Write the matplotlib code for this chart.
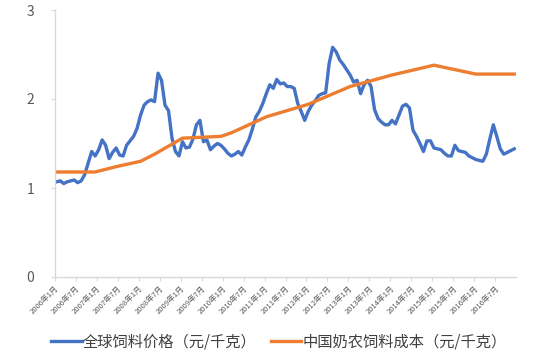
import matplotlib
matplotlib.use("Agg")
import matplotlib.pyplot as plt
import numpy as np

plt.rcParams['font.family'] = ['Noto Sans CJK SC', 'DejaVu Sans']

# ---- data ----
start_year, start_month = 2006, 1
global_feed_price = [
    1.07, 1.08, 1.05, 1.07, 1.08, 1.09, 1.06, 1.08, 1.15, 1.28, 1.41, 1.36,   # 2006
    1.43, 1.54, 1.48, 1.33, 1.40, 1.45, 1.37, 1.36, 1.48, 1.53, 1.58, 1.67,   # 2007
    1.82, 1.93, 1.97, 1.99, 1.97, 2.29, 2.21, 1.93, 1.87, 1.56, 1.41, 1.36,   # 2008
    1.52, 1.45, 1.46, 1.55, 1.71, 1.76, 1.52, 1.54, 1.43, 1.47, 1.50, 1.48,   # 2009
    1.44, 1.39, 1.36, 1.38, 1.41, 1.37, 1.46, 1.54, 1.66, 1.80, 1.86, 1.95,   # 2010
    2.06, 2.16, 2.12, 2.22, 2.17, 2.18, 2.14, 2.14, 2.12, 1.95, 1.86, 1.76,   # 2011
    1.86, 1.93, 1.98, 2.04, 2.06, 2.07, 2.40, 2.58, 2.53, 2.44, 2.39, 2.33,   # 2012
    2.27, 2.19, 2.21, 2.06, 2.16, 2.21, 2.14, 1.88, 1.78, 1.74, 1.71, 1.71,   # 2013
    1.76, 1.72, 1.82, 1.92, 1.94, 1.90, 1.65, 1.58, 1.50, 1.41, 1.53, 1.53,   # 2014
    1.45, 1.44, 1.43, 1.39, 1.36, 1.36, 1.48, 1.42, 1.41, 1.40, 1.36, 1.34,   # 2015
    1.32, 1.31, 1.30, 1.38, 1.55, 1.71, 1.58, 1.44, 1.38, 1.40, 1.42, 1.44,   # 2016
]
china_cost_dates = ["2006-01", "2006-12", "2007-06", "2008-01", "2008-05",
                    "2009-01", "2009-12", "2010-03", "2011-01", "2012-01",
                    "2013-01", "2014-01", "2015-01", "2016-01", "2016-12"]
china_cost_values = [1.18, 1.18, 1.24, 1.30, 1.38,
                     1.56, 1.58, 1.62, 1.80, 1.94,
                     2.14, 2.27, 2.38, 2.28, 2.28]
tick_labels = [f"{y}年{m}月" for y in range(2006, 2017) for m in (1, 7)]
y_ticks = [0, 1, 2, 3]
label_blue = "全球饲料价格（元/千克）"
label_orange = "中国奶农饲料成本（元/千克）"

# ---- helpers ----
def month_index(s):
    y, m = s.split("-")
    return (int(y) - start_year) * 12 + int(m) - start_month

x_blue = np.arange(len(global_feed_price))
x_orange = [month_index(d) for d in china_cost_dates]

fig = plt.figure(figsize=(5.38, 3.56), dpi=100)
ax = fig.add_axes([55/538, 1 - 277/356, (516-55)/538, (277-10)/356])

blue = "#4472C4"
orange = "#ED7D31"
l1, = ax.plot(x_blue, global_feed_price, color=blue, lw=2.4, solid_joinstyle='round', label=label_blue)
l2, = ax.plot(x_orange, china_cost_values, color=orange, lw=2.4, solid_joinstyle='round', label=label_orange)

ax.set_xlim(-0.5, len(global_feed_price) - 0.5)
ax.set_ylim(0, 3)
ax.set_yticks(y_ticks)
ax.set_yticklabels([str(v) for v in y_ticks])
ax.set_xticks([i * 6 - 0.5 for i in range(len(tick_labels))])
ax.set_xticklabels(tick_labels, rotation=45, ha='right', va='top',
                   rotation_mode='anchor', fontsize=5.5, color='#595959')

for s in ['top', 'right']:
    ax.spines[s].set_visible(False)
for s in ['left', 'bottom']:
    ax.spines[s].set_color('#D9D9D9')
    ax.spines[s].set_linewidth(1.0)
ax.tick_params(axis='y', length=3, color='#D9D9D9', labelsize=10, labelcolor='#595959', pad=12)
ax.tick_params(axis='x', length=3, color='#D9D9D9', pad=2)

fig.legend(handles=[l1, l2], loc='center', bbox_to_anchor=(0.5 + 10/538, 1 - 341.7/356),
           ncol=2, frameon=False, fontsize=11, handlelength=2.0, handletextpad=0.1,
           columnspacing=0.9, labelcolor='#404040')

fig.savefig("out.png", dpi=100)
